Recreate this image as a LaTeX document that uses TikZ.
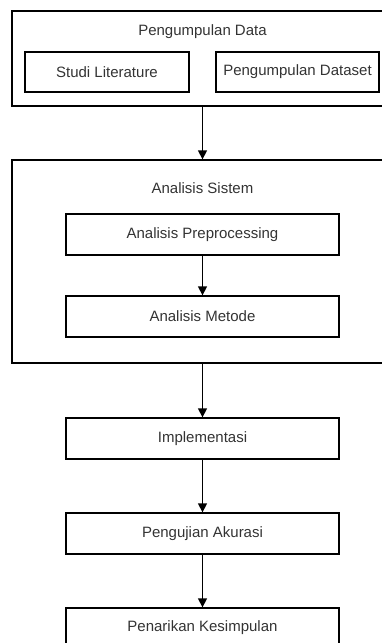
\documentclass[tikz,border=0pt]{standalone}
\usepackage{fontspec}
\setmainfont{Liberation Sans}
\usetikzlibrary{arrows.meta}
\definecolor{txt}{HTML}{333333}
\begin{document}
\begin{tikzpicture}[x=1pt,y=-1pt,
  box/.style={draw=black,line width=1.3pt,rectangle,inner sep=0pt,text=txt,
    font=\fontsize{15}{18}\selectfont},
  lbl/.style={inner sep=0pt,text=txt,font=\fontsize{15}{18}\selectfont},
  conn/.style={draw=black,line width=1.3pt,-{Triangle[width=9pt,length=9pt]}}]
\useasboundingbox (0,0) rectangle (382,643);
\clip (0,0) rectangle (382,643);
\node[box,minimum width=381pt,minimum height=95pt] (pd) at (202.5,58.5) {};
\node[lbl] (pdl) at (202.5,32) {Pengumpulan Data};
\node[box,minimum width=164pt,minimum height=40pt] (sl) at (107,72) {Studi Literature};
\node[box,minimum width=163pt,minimum height=40pt] (ds) at (297.5,72) {Pengumpulan Dataset};
\node[box,minimum width=381pt,minimum height=203pt] (as) at (202.5,261.5) {};
\node[lbl] (asl) at (202.5,188) {Analisis Sistem};
\node[box,minimum width=273pt,minimum height=41pt] (ap) at (202.5,234.5) {Analisis Preprocessing};
\node[box,minimum width=273pt,minimum height=41pt] (am) at (202.5,316.5) {Analisis Metode};
\node[box,minimum width=273pt,minimum height=41pt] (im) at (202.5,438.5) {Implementasi};
\node[box,minimum width=273pt,minimum height=41pt] (pa) at (202.5,533.5) {Pengujian Akurasi};
\node[box,minimum width=273pt,minimum height=60pt] (pk) at (202.5,638) {};
\node[lbl] (pkl) at (202.5,628) {Penarikan Kesimpulan};
\draw[conn] (pd.south) -- (as.north);
\draw[conn] (ap.south) -- (am.north);
\draw[conn] (as.south) -- (im.north);
\draw[conn] (im.south) -- (pa.north);
\draw[conn] (pa.south) -- (pk.north);
\end{tikzpicture}
\end{document}
